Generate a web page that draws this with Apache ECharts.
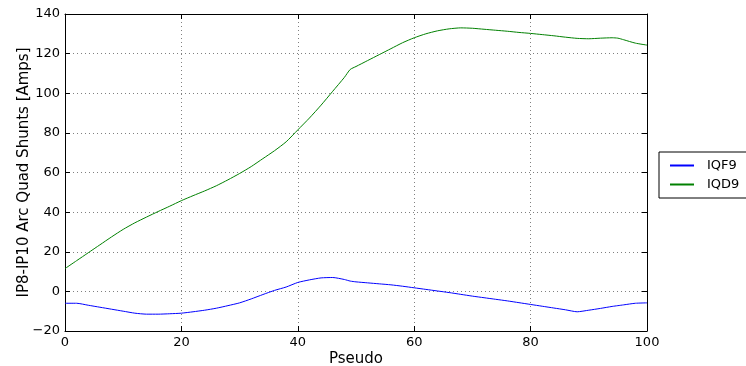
<!DOCTYPE html>
<html>
<head>
<meta charset="utf-8">
<script src="https://cdn.jsdelivr.net/npm/echarts@6/dist/echarts.min.js"></script>
<style>
  html, body { margin: 0; padding: 0; background: #fff; }
  #container { width: 746px; height: 366px; }
</style>
</head>
<body>
<div id="container"></div>
<script>
"use strict";

// pseudo-octupole scan values
const pseudo = [0, 2, 4, 6, 8, 10, 12, 14, 16, 18, 20, 22, 24, 26, 28, 30, 32, 34, 36, 38,
    40, 42, 44, 46, 48, 49, 50, 52, 54, 56, 58, 60, 62, 64, 66, 68, 70, 72, 74, 76,
    78, 80, 82, 84, 86, 88, 90, 92, 94, 95, 96, 98, 100];
const iqf9 = [-6, -6, -7, -8, -9, -10, -11, -11.5, -11.5, -11.3, -11, -10.3, -9.5, -8.5, -7.2, -5.8, -3.8, -1.6, 0.5, 2.2,
    4.5, 5.8, 6.8, 7, 6, 5.2, 4.8, 4.3, 3.8, 3.3, 2.6, 1.8, 1, 0.2, -0.6, -1.5, -2.4, -3.2, -4, -4.8,
    -5.7, -6.6, -7.5, -8.4, -9.3, -10.3, -9.5, -8.6, -7.6, -7.2, -6.8, -6, -5.8];
const iqd9 = [11.5, 15.5, 19.5, 23.5, 27.5, 31.3, 34.6, 37.5, 40.3, 43, 45.8, 48.3, 50.7, 53.3, 56.3, 59.5, 63, 67, 71, 75.5,
    81.5, 87.5, 94, 101, 108, 112, 113.5, 116.5, 119.5, 122.5, 125.5, 128, 130, 131.5, 132.5, 133, 132.8, 132.3, 131.8, 131.3,
    130.7, 130.2, 129.6, 129, 128.3, 127.7, 127.5, 127.8, 128, 127.8, 127, 125.3, 124.3];

const seriesNames = ['IQF9', 'IQD9'];
const seriesColors = ['#0000ff', '#008000'];

function pairs(ys) {
    return pseudo.map(function (x, i) { return [x, ys[i]]; });
}

let myChart = echarts.init(document.getElementById('container'));

const font = 'DejaVu Sans';
const gridLine = { show: true, lineStyle: { color: '#808080', type: [1, 3], width: 1 } };
const frame = { show: true, onZero: false, lineStyle: { color: '#000' } };
const ticks = { show: true, inside: true, length: 5, lineStyle: { color: '#000' } };
// matplotlib style minus sign
const minus = function (v) { return String(v).replace('-', '\u2212'); };

let option = {
    animation: false,
    textStyle: { fontFamily: font },
    grid: { left: 65, right: 99, top: 14, bottom: 35, outerBoundsMode: 'none', containLabel: false },
    legend: {
        orient: 'vertical',
        left: 659,
        top: 152,
        data: seriesNames.map(function (n, i) {
            return { name: n, itemStyle: { color: seriesColors[i] } };
        }),
        icon: 'rect',
        itemWidth: 24,
        itemHeight: 2,
        itemGap: 6,
        padding: [7, 30, 7, 11],
        borderColor: '#000',
        borderWidth: 1,
        borderRadius: 0,
        textStyle: { fontFamily: font, fontSize: 13, color: '#000', padding: [0, 0, 0, 8] }
    },
    xAxis: [{
        type: 'value',
        min: 0, max: 100, interval: 20,
        name: 'Pseudo',
        nameLocation: 'middle',
        nameGap: 21,
        nameMoveOverlap: false,
        nameTextStyle: { fontSize: 15, color: '#000' },
        axisLine: frame,
        axisTick: ticks,
        axisLabel: { fontSize: 13, color: '#000', margin: 5 },
        splitLine: gridLine
    }, {
        type: 'value',
        position: 'top',
        min: 0, max: 100, interval: 20,
        axisLine: frame,
        axisTick: ticks,
        axisLabel: { show: false },
        splitLine: { show: false }
    }],
    yAxis: [{
        type: 'value',
        min: -20, max: 140, interval: 20,
        name: 'IP8-IP10 Arc Quad Shunts [Amps]',
        nameLocation: 'middle',
        nameGap: 33,
        nameMoveOverlap: false,
        nameTextStyle: { fontSize: 15, color: '#000' },
        axisLine: frame,
        axisTick: ticks,
        axisLabel: { fontSize: 13, color: '#000', margin: 5, formatter: minus },
        splitLine: gridLine
    }, {
        type: 'value',
        position: 'right',
        min: -20, max: 140, interval: 20,
        axisLine: frame,
        axisTick: ticks,
        axisLabel: { show: false },
        splitLine: { show: false }
    }],
    series: [{
        name: seriesNames[0],
        type: 'line',
        data: pairs(iqf9),
        itemStyle: { color: seriesColors[0] },
        lineStyle: { width: 1, color: seriesColors[0] },
        showSymbol: false,
        smooth: 0.2
    }, {
        name: seriesNames[1],
        type: 'line',
        data: pairs(iqd9),
        itemStyle: { color: seriesColors[1] },
        lineStyle: { width: 1, color: seriesColors[1] },
        showSymbol: false,
        smooth: 0.2
    }]
};

myChart.setOption(option);

window.addEventListener('resize', function () {
    myChart.resize();
});
</script>
</body>
</html>
